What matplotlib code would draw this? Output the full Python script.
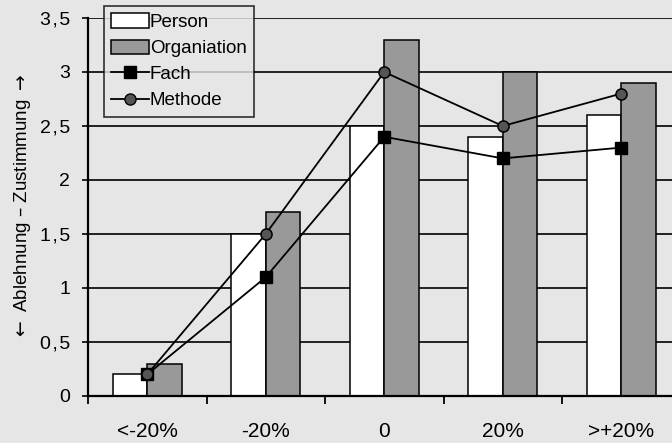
import matplotlib
matplotlib.use("Agg")
import matplotlib.pyplot as plt
from matplotlib.patches import Patch
from matplotlib.lines import Line2D
import numpy as np

categories = ["<-20%", "-20%", "0", "20%", ">+20%"]
person = [0.2, 1.5, 2.5, 2.4, 2.6]
organiation = [0.3, 1.7, 3.3, 3.0, 2.9]
fach = [0.2, 1.1, 2.4, 2.2, 2.3]
methode = [0.2, 1.5, 3.0, 2.5, 2.8]
yticks = [0, 0.5, 1, 1.5, 2, 2.5, 3, 3.5]
ytick_labels = ["0", "0\u200a,\u200a5", "1", "1\u200a,\u200a5", "2", "2\u200a,\u200a5", "3", "3\u200a,\u200a5"]

plt.rcParams['font.family'] = ['Liberation Sans', 'DejaVu Sans']
plt.rcParams['mathtext.fontset'] = 'dejavusans'
bg = "#e6e6e6"
fig = plt.figure(figsize=(6.72, 4.43), dpi=100, facecolor=bg)
W, H = 672, 443
left_px, right_px = 88, 88 + 5 * 118.5
bottom_px, top_px = 396, 18
ax = fig.add_axes([left_px / W, (H - bottom_px) / H, (right_px - left_px) / W, (bottom_px - top_px) / H])
ax.set_facecolor(bg)

x = np.arange(len(categories))
bw = 0.29
ax.bar(x - bw / 2, person, width=bw, color="white", edgecolor="black", linewidth=1.1, zorder=3)
ax.bar(x + bw / 2, organiation, width=bw, color="#999999", edgecolor="black", linewidth=1.1, zorder=3)
ax.plot(x, fach, color="black", linewidth=1.3, marker="s", markersize=8.5,
        markerfacecolor="black", markeredgecolor="black", zorder=4)
ax.plot(x, methode, color="black", linewidth=1.3, marker="o", markersize=8,
        markerfacecolor="#555555", markeredgecolor="black", markeredgewidth=1.1, zorder=5)

ax.set_xlim(-0.5, 4.5)
ax.set_ylim(0, 3.5)
ax.set_yticks(yticks)
ax.set_yticklabels(ytick_labels, fontsize=14)
for yv in yticks[1:]:
    ax.axhline(yv, color="black", linewidth=1.2, zorder=1)

ax.set_xticks(x)
ax.set_xticklabels(categories, fontsize=15)
ax.set_xticks(np.arange(-0.5, 5.0, 1.0), minor=True)
ax.tick_params(axis="x", which="major", length=0, pad=19)
ax.tick_params(axis="x", which="minor", length=5.8, width=1.3, direction="out")
ax.tick_params(axis="y", length=4.3, width=1.2, pad=8.6)

for s in ["top", "right"]:
    ax.spines[s].set_visible(False)
ax.spines["left"].set_linewidth(1.6)
ax.spines["bottom"].set_linewidth(1.6)
ax.spines["left"].set_zorder(6)
ax.spines["bottom"].set_zorder(6)

ax.set_ylabel("$\\leftarrow$ Ablehnung \u2013 Zustimmung $\\rightarrow$", fontsize=13.5, labelpad=5)

handles = [
    Patch(facecolor="white", edgecolor="black", linewidth=1.1),
    Patch(facecolor="#999999", edgecolor="black", linewidth=1.1),
    Line2D([], [], color="black", linewidth=1.3, marker="s", markersize=8.5, markerfacecolor="black"),
    Line2D([], [], color="black", linewidth=1.3, marker="o", markersize=8, markerfacecolor="#555555",
           markeredgecolor="black"),
]
leg = ax.legend(handles, ["Person", "Organiation", "Fach", "Methode"], loc="upper left",
                bbox_to_anchor=(0.027, 1.032), borderaxespad=0, fontsize=13.5,
                frameon=True, fancybox=False, facecolor=bg, edgecolor="black",
                handlelength=2.0, handleheight=0.8, handletextpad=0.05, labelspacing=0.45, borderpad=0.4)
leg.get_frame().set_linewidth(1.2)
leg.set_zorder(10)

fig.savefig("out.png", dpi=100, facecolor=bg)
